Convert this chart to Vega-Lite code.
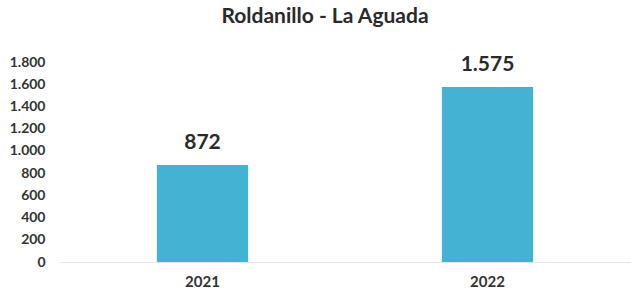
{
  "$schema": "https://vega.github.io/schema/vega-lite/v6.json",
  "autosize": "none",
  "width": 570,
  "height": 200,
  "padding": {"left": 60, "top": 62, "right": 1, "bottom": 32},
  "background": "white",
  "title": {
    "text": "Roldanillo - La Aguada",
    "font": "Lato",
    "fontSize": 21,
    "fontWeight": "bold",
    "color": "#2a2a2a",
    "anchor": "middle",
    "dx": -20,
    "offset": 27
  },
  "data": {"values": [
    {"year": "2021", "value": 872},
    {"year": "2022", "value": 1575}
  ]},
  "encoding": {
    "x": {"field": "year", "type": "nominal", "title": null,
      "scale": {"paddingInner": 0.68, "paddingOuter": 0.34},
      "axis": {"labelAngle": 0, "labelFont": "Lato", "labelFontSize": 15, "labelFontWeight": "bold", "labelColor": "#333", "labelPadding": 12, "ticks": false, "domainColor": "#e4e4e4", "domainWidth": 1}},
    "y": {"field": "value", "type": "quantitative", "title": null,
      "scale": {"domain": [0, 1800], "nice": false},
      "axis": {"values": [0,200,400,600,800,1000,1200,1400,1600,1800], "format": ",d", "grid": false, "domain": false, "ticks": false, "labelFont": "Lato", "labelFontSize": 14, "labelFontWeight": "bold", "labelColor": "#333", "labelPadding": 15}}
  },
  "layer": [
    {"mark": {"type": "bar", "color": "#43B3D3"}},
    {"mark": {"type": "text", "baseline": "bottom", "dy": -12, "font": "Lato", "fontSize": 21, "fontWeight": "bold", "color": "#2a2a2a"},
     "encoding": {"text": {"field": "value", "type": "quantitative", "format": ",d"}}}
  ],
  "config": {
    "view": {"stroke": null},
    "locale": {"number": {"decimal": ",", "thousands": ".", "grouping": [3], "currency": ["$", ""]}}
  }
}
